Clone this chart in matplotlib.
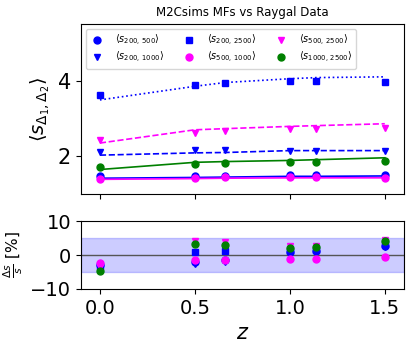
import matplotlib
matplotlib.use("Agg")
import matplotlib.pyplot as plt
import numpy as np

z = [0.0, 0.5, 0.66, 1.0, 1.14, 1.5]
labels = [r"$\langle s_{200,\,500}\rangle$", r"$\langle s_{200,\,1000}\rangle$",
          r"$\langle s_{200,\,2500}\rangle$", r"$\langle s_{500,\,1000}\rangle$",
          r"$\langle s_{500,\,2500}\rangle$", r"$\langle s_{1000,\,2500}\rangle$"]
colors = ["blue", "blue", "blue", "magenta", "magenta", "green"]
markers = ["o", "v", "s", "o", "v", "o"]
linestyles = ["-", "--", ":", "-", "--", "-"]

data_200_500 = [1.48, 1.49, 1.49, 1.50, 1.50, 1.50]
data_200_1000 = [2.10, 2.16, 2.16, 2.15, 2.15, 2.13]
data_200_2500 = [3.62, 3.89, 3.94, 4.00, 4.00, 3.96]
data_500_1000 = [1.40, 1.43, 1.44, 1.44, 1.45, 1.43]
data_500_2500 = [2.44, 2.62, 2.67, 2.72, 2.73, 2.75]
data_1000_2500 = [1.71, 1.80, 1.82, 1.85, 1.86, 1.88]

model_200_500 = [1.42, 1.44, 1.45, 1.47, 1.47, 1.48]
model_200_1000 = [2.03, 2.09, 2.10, 2.15, 2.15, 2.15]
model_200_2500 = [3.49, 3.85, 3.95, 4.05, 4.08, 4.10]
model_500_1000 = [1.39, 1.41, 1.42, 1.43, 1.43, 1.43]
model_500_2500 = [2.35, 2.70, 2.73, 2.79, 2.81, 2.86]
model_1000_2500 = [1.65, 1.84, 1.86, 1.89, 1.91, 1.96]

res_200_500 = [-3.0, -2.2, -1.5, 1.0, 1.3, 2.8]
res_200_1000 = [-3.8, -2.8, -2.0, 0.8, 1.2, 2.4]
res_200_2500 = [-3.3, 0.8, 1.2, 1.2, 1.5, 3.3]
res_500_1000 = [-2.3, -1.5, -1.4, -1.3, -1.2, -0.6]
res_500_2500 = [-3.5, 4.0, 3.8, 2.8, 2.7, 4.5]
res_1000_2500 = [-4.6, 3.3, 2.9, 2.2, 2.3, 4.1]

data = [data_200_500, data_200_1000, data_200_2500, data_500_1000, data_500_2500, data_1000_2500]
model = [model_200_500, model_200_1000, model_200_2500, model_500_1000, model_500_2500, model_1000_2500]
res = [res_200_500, res_200_1000, res_200_2500, res_500_1000, res_500_2500, res_1000_2500]

fig = plt.figure(figsize=(4.15, 3.46), dpi=100)
ax1 = fig.add_axes([0.195, 0.439, 0.778, 0.492])
ax2 = fig.add_axes([0.195, 0.165, 0.778, 0.196])

for d, m, c, mk, ls, lb in zip(data, model, colors, markers, linestyles, labels):
    ax1.plot(z, d, linestyle="none", marker=mk, color=c, markersize=5, label=lb)
    ax1.plot(z, m, linestyle=ls, color=c, linewidth=1.2)

ax1.set_xlim(-0.1, 1.6)
ax1.set_ylim(1.0, 5.5)
ax1.set_yticks([2, 4])
ax1.set_xticks([0.0, 0.5, 1.0, 1.5])
ax1.set_xticklabels([])
ax1.tick_params(labelsize=15)
ax1.set_ylabel(r"$\langle s_{\Delta_1,\Delta_2}\rangle$", fontsize=14)
ax1.set_title("M2Csims MFs vs Raygal Data", fontsize=8.5)
ax1.legend(ncol=3, loc="upper left", bbox_to_anchor=(0.0, 1.0), fontsize=7,
           handletextpad=1.0, handlelength=1.6, columnspacing=1.8,
           borderpad=0.4, labelspacing=0.25)

ax2.axhspan(-5, 5, color="blue", alpha=0.2)
ax2.axhline(0, color="#555555", linewidth=1)
for r, c, mk in zip(res, colors, markers):
    ax2.plot(z, r, linestyle="none", marker=mk, color=c, markersize=5)
ax2.set_xlim(-0.1, 1.6)
ax2.set_ylim(-10, 10)
ax2.set_yticks([-10, 0, 10])
ax2.set_xticks([0.0, 0.5, 1.0, 1.5])
ax2.tick_params(labelsize=14)
ax2.set_xlabel(r"$z$", fontsize=15)
ax2.set_ylabel(r"$\frac{\Delta s}{s}$ [%]", fontsize=11)

fig.savefig("out.png", dpi=100)
